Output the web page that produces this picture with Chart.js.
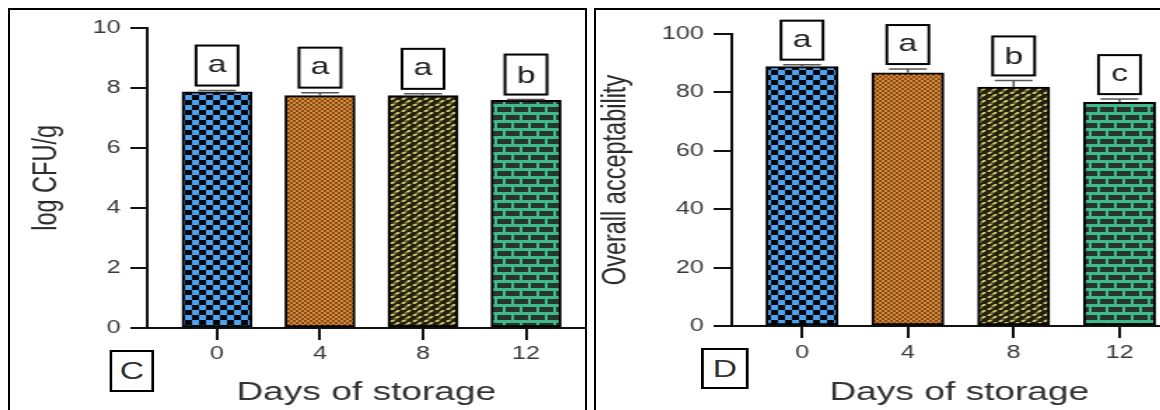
<!DOCTYPE html>
<html><head><meta charset="utf-8">
<script src="https://cdn.jsdelivr.net/npm/chart.js@4.4.1/dist/chart.umd.min.js"></script>
<style>
html,body{margin:0;padding:0;background:#fff;width:1160px;height:410px;overflow:hidden;position:relative;}
.panel{position:absolute;top:8px;border:2px solid #000;border-bottom:none;height:400px;overflow:hidden;background:#fff;}
#p1{left:8px;width:575px;}
#p2{left:594px;width:600px;}
.wrap{position:absolute;left:0;top:0;height:410px;transform:scaleX(1.4);transform-origin:0 0;}
.tag{position:absolute;border:2px solid #000;box-sizing:border-box;font:24px 'Liberation Sans',Arial,sans-serif;color:#333;display:flex;align-items:center;justify-content:center;background:#fff;}
</style></head>
<body>
<div class="panel" id="p1"><div class="wrap" style="width:411px"><canvas id="c1" width="411" height="410"></canvas>
<div class="tag" style="left:71px;top:340px;width:32px;height:42px;">C</div></div></div>
<div class="panel" id="p2"><div class="wrap" style="width:422px"><canvas id="c2" width="422" height="410"></canvas>
<div class="tag" style="left:75px;top:338px;width:34px;height:41px;">D</div></div></div>
<script>
// ---- data ----
const days = [0, 4, 8, 12];
const dayLabels = ['0', '4', '8', '12'];
const cfuValues = [7.87, 7.74, 7.74, 7.58];
const cfuErrors = [0.04, 0.10, 0.06, 0.03];
const cfuLetters = ['a', 'a', 'a', 'b'];
const cfuTicks = [0, 2, 4, 6, 8, 10];
const oaValues = [88.8, 86.7, 81.8, 76.6];
const oaErrors = [0.7, 1.3, 2.3, 1.1];
const oaLetters = ['a', 'a', 'b', 'c'];
const oaTicks = [0, 20, 40, 60, 80, 100];

const FONT = "'Liberation Sans', Arial, Helvetica, sans-serif";
Chart.defaults.font.family = FONT;

// ---- fill patterns ----
function pattern(kind) {
  const c = document.createElement('canvas');
  const g = c.getContext('2d');
  if (kind === 'check') {
    c.width = 10; c.height = 10;
    g.fillStyle = '#050608'; g.fillRect(0, 0, 10, 10);
    g.fillStyle = '#4ea2f2'; g.fillRect(0, 0, 5, 5); g.fillRect(5, 5, 5, 5);
  } else if (kind === 'dots') {
    c.width = 4; c.height = 4;
    g.fillStyle = '#d48a3c'; g.fillRect(0, 0, 4, 4);
    g.fillStyle = '#874a16'; g.fillRect(0, 0, 2, 2); g.fillRect(2, 2, 2, 2);
  } else if (kind === 'weave') {
    c.width = 8; c.height = 6;
    g.fillStyle = '#24220f'; g.fillRect(0, 0, 8, 6);
    g.strokeStyle = '#d2c970'; g.lineWidth = 2;
    [-8, 0, 8].forEach(k => { g.beginPath(); g.moveTo(k, 6); g.lineTo(k + 6, 0); g.stroke(); });
    g.fillStyle = '#24220f'; g.fillRect(0, 2.6, 8, 1);
  } else {
    c.width = 12; c.height = 16;
    g.fillStyle = '#3dbb8a'; g.fillRect(0, 0, 12, 16);
    g.fillStyle = '#28352f';
    g.fillRect(0, 1, 10, 5);
    g.fillRect(6, 9, 6, 5); g.fillRect(0, 9, 4, 5);
  }
  return g.createPattern(c, 'repeat');
}
const fills = [pattern('check'), pattern('dots'), pattern('weave'), pattern('brick')];

function annot(values, errors, letters, boxW, boxH, gap, capW) {
  return {
    id: 'annot',
    afterDatasetsDraw(chart) {
      const ctx = chart.ctx, x = chart.scales.x, y = chart.scales.y;
      ctx.save();
      days.forEach((d, i) => {
        const cx = x.getPixelForValue(d);
        const yb = y.getPixelForValue(values[i]);
        const yt = y.getPixelForValue(values[i] + errors[i]);
        ctx.strokeStyle = '#555'; ctx.lineWidth = 1.5;
        ctx.beginPath();
        ctx.moveTo(cx, yb); ctx.lineTo(cx, yt);
        ctx.moveTo(cx - capW / 2, yt); ctx.lineTo(cx + capW / 2, yt);
        ctx.stroke();
        const bb = yt - gap, bt = bb - boxH;
        ctx.fillStyle = '#fff'; ctx.fillRect(cx - boxW / 2, bt, boxW, boxH);
        ctx.strokeStyle = '#000'; ctx.lineWidth = 2;
        ctx.strokeRect(cx - boxW / 2, bt, boxW, boxH);
        ctx.fillStyle = '#222'; ctx.font = '24px ' + FONT;
        ctx.textAlign = 'center'; ctx.textBaseline = 'alphabetic';
        const m = ctx.measureText(letters[i]);
        const cy = bt + boxH / 2;
        ctx.fillText(letters[i], cx, cy + (m.actualBoundingBoxAscent - m.actualBoundingBoxDescent) / 2);
      });
      ctx.restore();
    }
  };
}

function make(id, values, errors, letters, yTicks, yMax, yTitle, geo) {
  new Chart(document.getElementById(id), {
    type: 'bar',
    data: {
      datasets: [{
        data: days.map((d, i) => ({ x: d, y: values[i] })),
        backgroundColor: fills,
        borderColor: '#000',
        borderWidth: 2,
        borderSkipped: false,
        barThickness: geo.barW
      }]
    },
    options: {
      responsive: false,
      devicePixelRatio: 1,
      animation: false,
      layout: { padding: { top: geo.top, left: 0, right: 0, bottom: 0 } },
      plugins: { legend: { display: false }, tooltip: { enabled: false } },
      scales: {
        x: {
          type: 'linear',
          offset: false,
          min: geo.xMin, max: geo.xMax,
          afterBuildTicks: s => { s.ticks = days.map(v => ({ value: v })); },
          afterFit: s => { s.height = geo.xH; },
          ticks: { autoSkip: false, color: '#3a3a3a', font: { size: 18 }, padding: geo.xPad,
                   callback: v => dayLabels[days.indexOf(v)] },
          grid: { offset: false, drawOnChartArea: false, drawTicks: true, tickLength: 12, color: '#111', lineWidth: 2 },
          border: { display: true, color: '#111', width: 2 },
          title: { display: true, text: 'Days of storage', color: '#333', font: { size: 26.5 },
                   padding: { top: 0, bottom: 11 } }
        },
        y: {
          min: 0, max: yMax,
          afterBuildTicks: s => { s.ticks = yTicks.map(v => ({ value: v })); },
          afterFit: s => { s.width = geo.yW; },
          ticks: { color: '#3a3a3a', font: { size: 18 }, padding: 7 },
          grid: { drawOnChartArea: false, drawTicks: true, tickLength: geo.yTick, color: '#111', lineWidth: 2 },
          border: { display: true, color: '#111', width: 2 },
          title: { display: true, text: yTitle, color: '#2a2a2a', font: { size: 23.5 },
                   padding: { top: geo.yTitlePad, bottom: 0 } }
        }
      }
    },
    plugins: [annot(values, errors, letters, 30, geo.boxH, 5, 27)]
  });
}

make('c1', cfuValues, cfuErrors, cfuLetters, cfuTicks, 10, 'log CFU/g',
  { barW: 50, top: 12, xMin: -2.711, xMax: 14.307, xH: 92, xPad: 3, yW: 98, yTick: 12, yTitlePad: 12.3, boxH: 40 });
make('c2', oaValues, oaErrors, oaLetters, oaTicks, 100, 'Overall acceptability',
  { barW: 51.4, top: 24, xMin: -2.653, xMax: 14.544, xH: 94, xPad: 4, yW: 97, yTick: 13, yTitlePad: 0.3, boxH: 39 });
</script>
</body></html>
